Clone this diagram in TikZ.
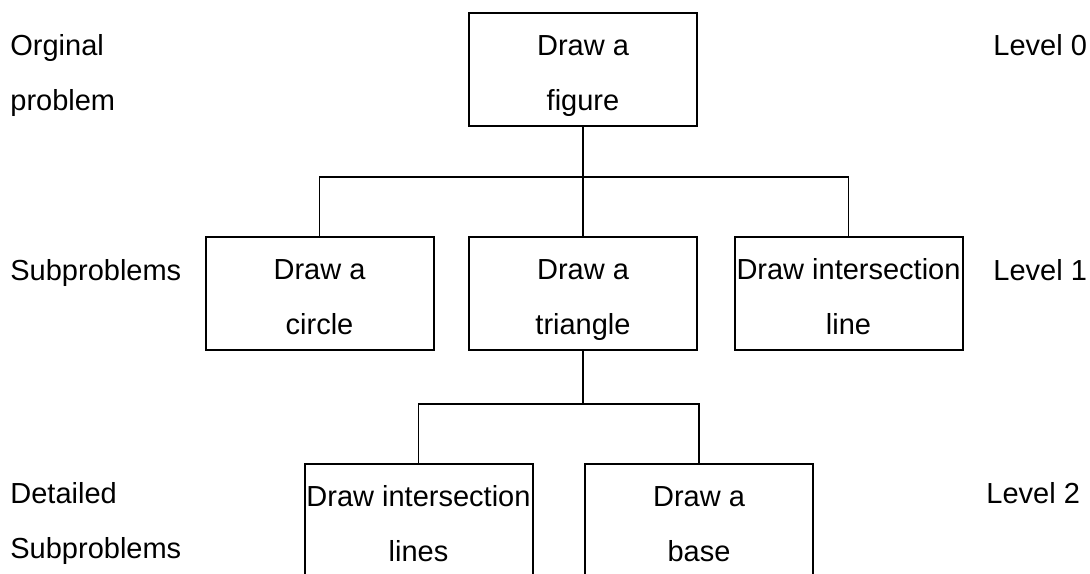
\documentclass[tikz,border=0pt]{standalone}
\usepackage{fontspec}
\setmainfont{Liberation Sans}
\newcommand{\ls}{\rule[-5.75pt]{0pt}{25pt}}
\begin{document}
\begin{tikzpicture}[x=0.5pt,y=-0.5pt,font=\fontsize{14.5}{27.5}\selectfont,line cap=rect,
		box/.style={draw,line width=1pt,inner sep=0pt,align=center,minimum width=114pt,minimum height=56.5pt},
		link/.style={line width=0.75pt},
		lbl/.style={anchor=base west,inner sep=0pt}]
			\clip (0,0) rectangle (1090,573);
			% levels
			\node[box] (top) at (583,69) {\ls Draw a\\\ls figure};
			\node[box] (circ) at (319.5,293.5) {\ls Draw a\\\ls circle};
			\node[box] (tri) at (583,293.5) {\ls Draw a\\\ls triangle};
			\node[box] (isect) at (848.5,293.5) {\ls Draw intersection\\\ls line};
			\node[box] (lines) at (418.5,520.5) {\ls Draw intersection\\\ls lines};
			\node[box] (base) at (699,520.5) {\ls Draw a\\\ls base};
			\coordinate (bar1) at (583,177);
			\coordinate (bar2) at (583,404);
			% connectors
			\draw[link] (top.south) -- (tri.north);
			\draw[link] (circ.north) |- (isect.north |- bar1) -- (isect.north);
			\draw[link] (tri.south) -- (tri.south |- bar2);
			\draw[link] (lines.north) |- (base.north |- bar2) -- (base.north);
			% side texts
			\node[lbl] (org) at (10,55) {Orginal};
			\node[lbl] (prob) at (10,110) {problem};
			\node[lbl] (sub) at (10,280) {Subproblems};
			\node[lbl] (det) at (10,503) {Detailed};
			\node[lbl] (dsub) at (10,558) {Subproblems};
			\node[lbl] (lv0) at (993,55) {Level 0};
			\node[lbl] (lv1) at (993,280) {Level 1};
			\node[lbl] (lv2) at (986,503) {Level 2};
\end{tikzpicture}
\end{document}
